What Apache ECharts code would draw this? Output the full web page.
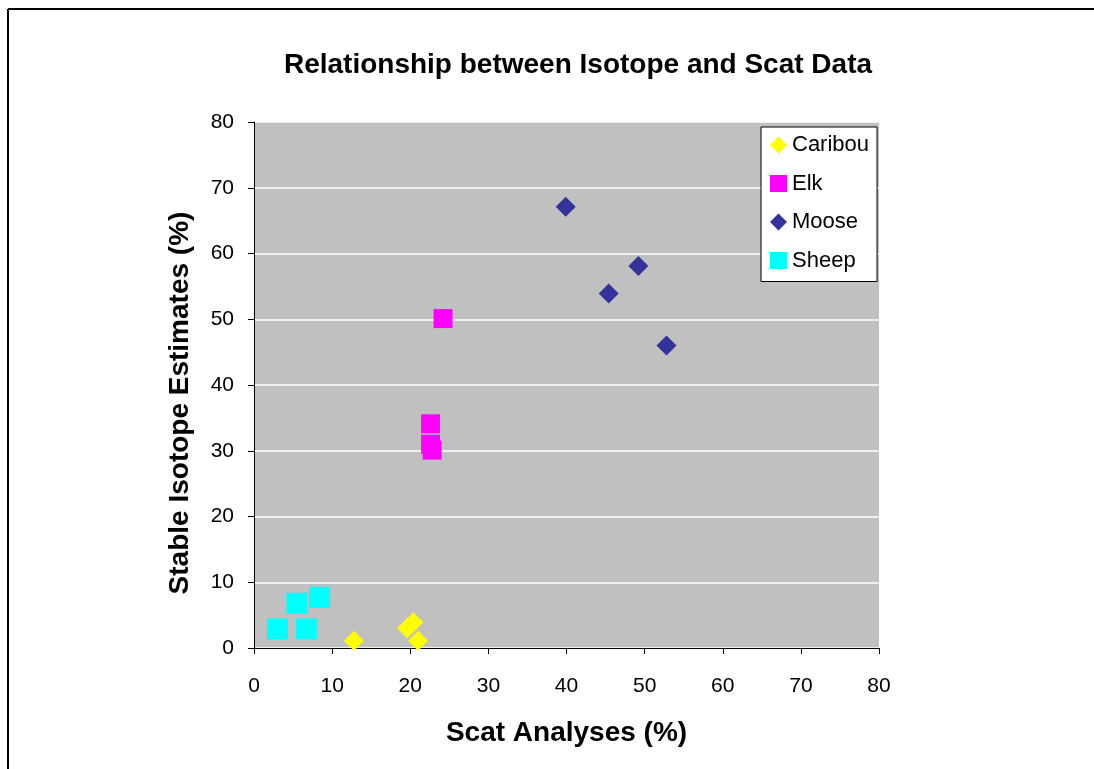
<!DOCTYPE html>
<html>
<head>
<meta charset="utf-8">
<script src="https://cdn.jsdelivr.net/npm/echarts@6/dist/echarts.min.js"></script>
<style>
html,body{margin:0;padding:0;background:#fff;}
#chart{width:1094px;height:769px;}
</style>
</head>
<body>
<div id="chart"></div>
<script>
const titleText = 'Relationship between Isotope and Scat Data';
const xAxisName = 'Scat Analyses (%)';
const yAxisName = 'Stable Isotope Estimates (%)';
const seriesNames = ['Caribou', 'Elk', 'Moose', 'Sheep'];
const caribou = [[12.8, 1.1], [19.6, 3.0], [20.4, 3.9], [21.0, 1.1]];
const elk = [[24.2, 50.1], [22.6, 34.1], [22.6, 31.0], [22.8, 30.1]];
const moose = [[39.9, 67.1], [49.2, 58.1], [45.4, 53.9], [52.8, 46.0]];
const sheep = [[3.0, 2.9], [5.5, 6.8], [8.4, 7.7], [6.7, 2.9]];

const font = 'Liberation Sans, Arial, sans-serif';
const chart = echarts.init(document.getElementById('chart'), null, {renderer: 'canvas'});

function mk(name, data, symbol, size, color) {
  return {
    name: name, type: 'scatter', data: data, symbol: symbol, symbolSize: size,
    itemStyle: {color: color, opacity: 1}, emphasis: {disabled: true}
  };
}

chart.setOption({
  animation: false,
  backgroundColor: '#fff',
  title: {
    text: titleText, left: 573, top: 46, textAlign: 'center',
    textStyle: {fontFamily: font, fontSize: 28, fontWeight: 'bold', color: '#000'}
  },
  graphic: [
    {type: 'line', shape: {x1: 8, y1: 9, x2: 1094, y2: 9}, style: {stroke: '#000', lineWidth: 2}, silent: true},
    {type: 'line', shape: {x1: 8, y1: 9, x2: 8, y2: 769}, style: {stroke: '#000', lineWidth: 2}, silent: true}
  ],
  grid: {
    left: 254, right: 215, top: 122, bottom: 121,
    show: true, backgroundColor: '#C0C0C0', borderWidth: 0
  },
  legend: {
    orient: 'vertical', left: 761, top: 127, width: 116,
    backgroundColor: '#fff', borderColor: '#000', borderWidth: 1,
    padding: [7, 8, 10, 9], itemGap: 16.5, itemWidth: 17, itemHeight: 17,
    textStyle: {fontFamily: font, fontSize: 22, color: '#000'},
    data: [
      {name: seriesNames[0], icon: 'diamond', itemStyle: {color: '#FFFF00'}},
      {name: seriesNames[1], icon: 'rect', itemStyle: {color: '#FF00FF'}},
      {name: seriesNames[2], icon: 'diamond', itemStyle: {color: '#333399'}},
      {name: seriesNames[3], icon: 'rect', itemStyle: {color: '#00FFFF'}}
    ]
  },
  xAxis: {
    type: 'value', min: 0, max: 80, interval: 10,
    name: xAxisName, nameLocation: 'middle', nameGap: 71,
    nameTextStyle: {fontFamily: font, fontSize: 28, fontWeight: 'bold', color: '#000'},
    axisLine: {show: true, onZero: false, lineStyle: {color: '#000', width: 1}},
    axisTick: {show: true, length: 6, lineStyle: {color: '#000'}},
    axisLabel: {fontFamily: font, fontSize: 21, color: '#000', margin: 28},
    splitLine: {show: false}
  },
  yAxis: {
    type: 'value', min: 0, max: 80, interval: 10,
    name: yAxisName, nameLocation: 'middle', nameGap: 60,
    nameTextStyle: {fontFamily: font, fontSize: 28, fontWeight: 'bold', color: '#000', padding: [0, 36, 0, 0]},
    axisLine: {show: true, onZero: false, lineStyle: {color: '#000', width: 1}},
    axisTick: {show: true, length: 6, lineStyle: {color: '#000'}},
    axisLabel: {fontFamily: font, fontSize: 21, color: '#000', margin: 20},
    splitLine: {show: true, lineStyle: {color: '#fff', width: 1.5}}
  },
  series: [
    mk(seriesNames[0], caribou, 'diamond', 20, '#FFFF00'),
    mk(seriesNames[1], elk, 'rect', 19, '#FF00FF'),
    mk(seriesNames[2], moose, 'diamond', 20, '#333399'),
    mk(seriesNames[3], sheep, 'rect', 21, '#00FFFF')
  ]
});
</script>
</body>
</html>
